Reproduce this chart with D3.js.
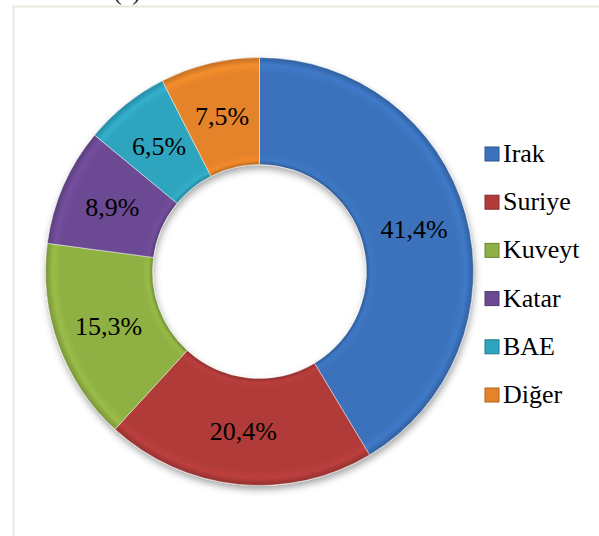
<!DOCTYPE html>
<html>
<head>
<meta charset="utf-8">
<script src="https://cdn.jsdelivr.net/npm/d3@7"></script>
<style>
  body { margin: 0; background: #fff; }
  svg text { font-family: "Times New Roman", "Liberation Serif", "DejaVu Serif", serif; }
</style>
</head>
<body>
<svg id="chart" width="599" height="536"></svg>
<script>
// chart data
const countries = ['Irak', 'Suriye', 'Kuveyt', 'Katar', 'BAE', 'Diğer'];
const shares = [41.4, 20.4, 15.3, 8.9, 6.5, 7.5];
const colors = ['#3b72bb', '#b03b39', '#8fb043', '#6c4a93', '#2ea4bf', '#e5832a'];

const svg = d3.select('#chart');
const cx = 259.5, cy = 271.5;
const outerR = 214, innerR = 107;

// frame around the figure
svg.append('rect')
  .attr('x', 13.5).attr('y', 6.5)
  .attr('width', 620).attr('height', 560)
  .attr('fill', 'none')
  .attr('stroke', '#ebe7de')
  .attr('stroke-width', 2);

// caption cut off at top (as in the original)
svg.append('text')
  .attr('x', 127).attr('y', 0)
  .attr('text-anchor', 'middle')
  .style('font-size', '24px')
  .attr('fill', '#222')
  .text('(a)');

const defs = svg.append('defs');

// drop shadow
const shadow = defs.append('filter')
  .attr('id', 'shadow')
  .attr('x', '-20%').attr('y', '-20%')
  .attr('width', '140%').attr('height', '140%');
shadow.append('feDropShadow')
  .attr('dx', 1).attr('dy', 4)
  .attr('stdDeviation', 3.5)
  .attr('flood-color', '#000')
  .attr('flood-opacity', 0.35);

// bevel-like ring gradient for each slice
const k = innerR / outerR;
colors.forEach((c, i) => {
  const base = d3.color(c);
  const g = defs.append('radialGradient')
    .attr('id', 'grad' + i)
    .attr('gradientUnits', 'userSpaceOnUse')
    .attr('cx', 0).attr('cy', 0).attr('r', outerR);
  const stops = [
    [k, base.darker(0.6)],
    [k + 0.02, base.brighter(0.15)],
    [k + 0.05, base],
    [0.93, base],
    [0.965, base.brighter(0.2)],
    [1, base.darker(0.5)]
  ];
  stops.forEach(s => {
    g.append('stop').attr('offset', s[0]).attr('stop-color', s[1]);
  });
});

const data = countries.map((name, i) => ({ name, value: shares[i], i }));

const pie = d3.pie().value(d => d.value).sort(null);
const arc = d3.arc().innerRadius(innerR).outerRadius(outerR);
const labelArc = d3.arc().innerRadius((innerR + outerR) / 2).outerRadius((innerR + outerR) / 2);

const g = svg.append('g').attr('transform', `translate(${cx},${cy})`);

g.append('g')
  .attr('filter', 'url(#shadow)')
  .selectAll('path')
  .data(pie(data))
  .join('path')
  .attr('d', arc)
  .attr('fill', d => `url(#grad${d.data.i})`)
  .attr('stroke', 'rgba(255,255,255,0.45)')
  .attr('stroke-width', 1);

g.selectAll('text.lbl')
  .data(pie(data))
  .join('text')
  .attr('class', 'lbl')
  .attr('transform', d => `translate(${labelArc.centroid(d)})`)
  .attr('text-anchor', 'middle')
  .attr('dy', '0.35em')
  .style('font-size', '26px')
  .attr('fill', '#000')
  .text(d => d3.format('.1f')(d.data.value).replace('.', ',') + '%');

// legend
const legend = svg.append('g').attr('transform', 'translate(485,147)');
const item = legend.selectAll('g')
  .data(data)
  .join('g')
  .attr('transform', (d, i) => `translate(0,${i * 48.2})`);

item.append('rect')
  .attr('width', 14).attr('height', 14)
  .attr('fill', d => colors[d.i])
  .attr('stroke', d => d3.color(colors[d.i]).darker(0.8))
  .attr('stroke-width', 1);

item.append('text')
  .attr('x', 18).attr('y', 15)
  .style('font-size', '26px')
  .attr('fill', '#000')
  .text(d => d.name);
</script>
</body>
</html>
